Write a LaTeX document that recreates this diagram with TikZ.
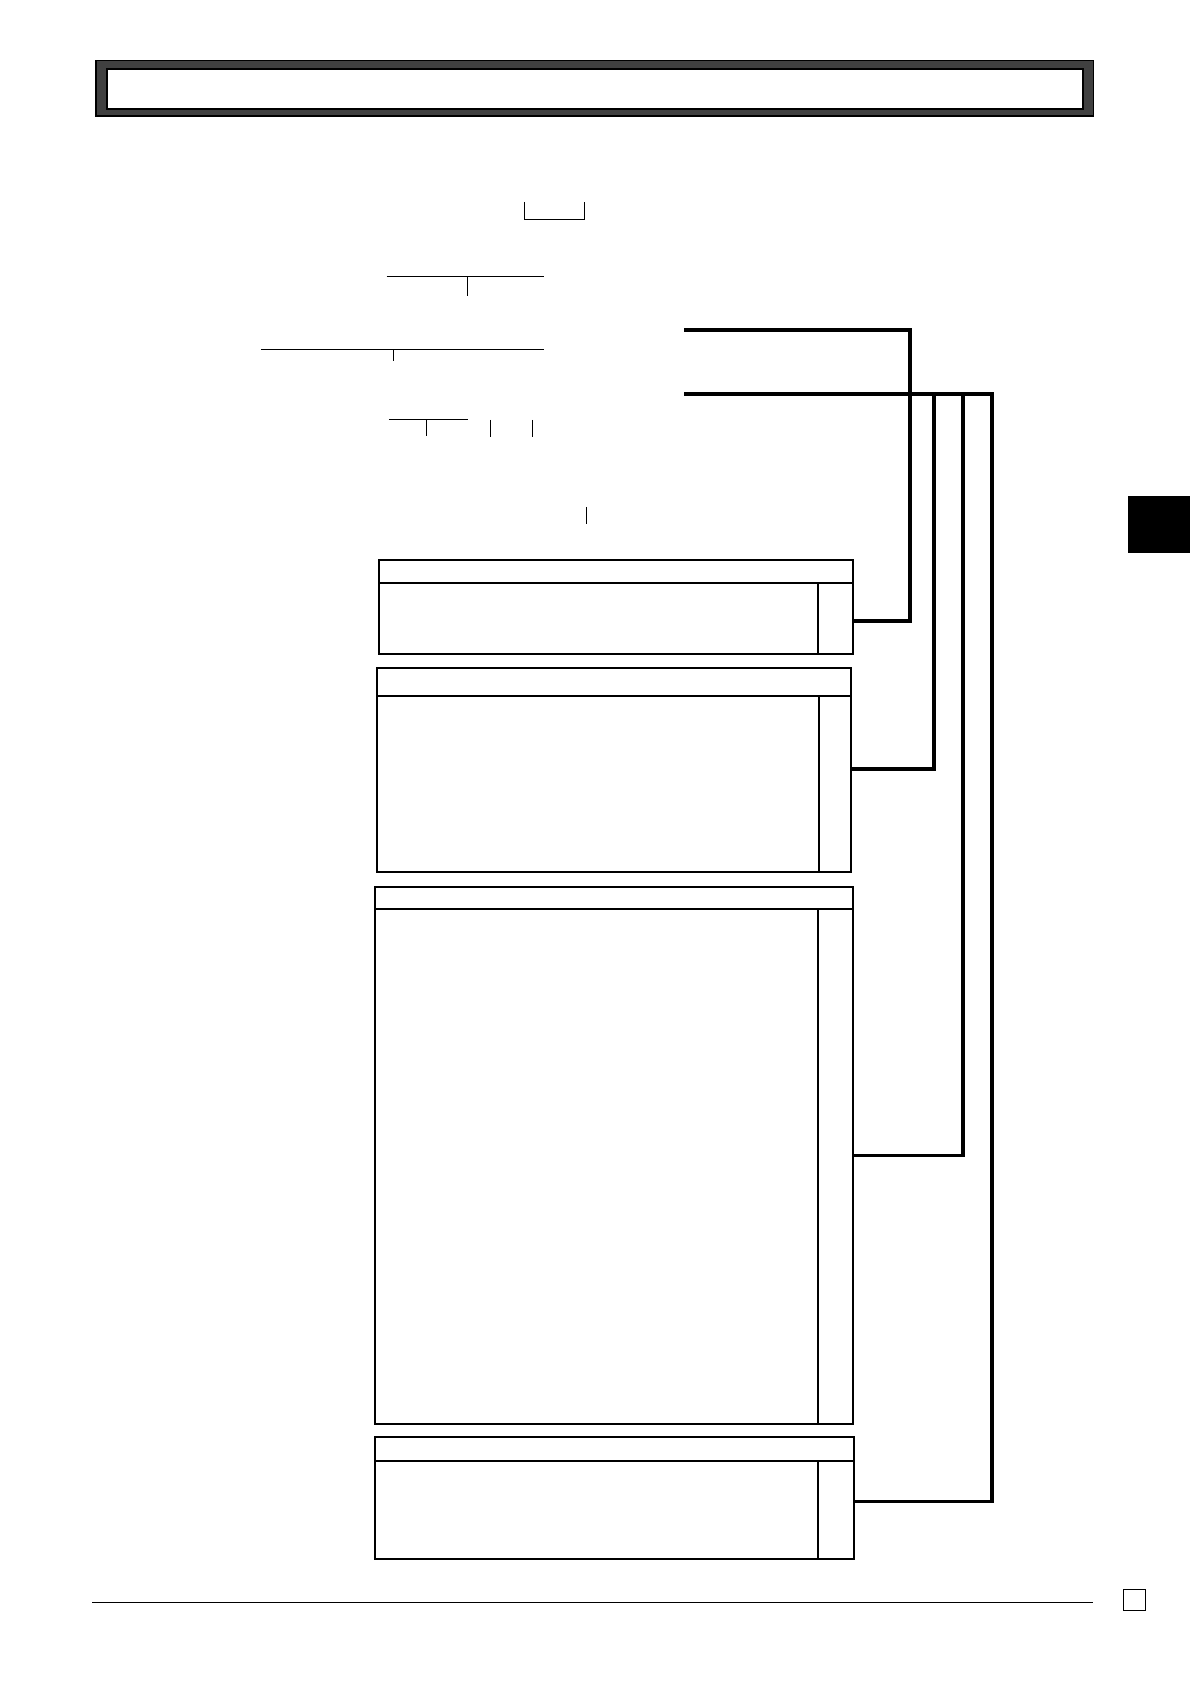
\documentclass[tikz,border=0pt]{standalone}
\definecolor{bandgray}{RGB}{64,64,64}
\tikzset{
  thinline/.style={line width=0.95pt, line cap=butt},
  boxframe/.style={draw, line width=1.9pt, rectangle, inner sep=0pt, outer sep=0pt},
  divline/.style={line width=1.9pt},
  busline/.style={line width=3.5pt, line join=miter, line cap=butt},
  hdrouter/.style={draw, line width=1pt, fill=bandgray, rectangle, inner sep=0pt, outer sep=0pt},
  hdrinner/.style={draw, line width=2pt, fill=white, rectangle, inner sep=0pt, outer sep=0pt},
}
\begin{document}
\begin{tikzpicture}[x=1pt,y=-1pt]
\useasboundingbox (0,0) rectangle (1108,1568);

% header
\node[hdrouter, minimum width=928.6pt, minimum height=52pt] (hdr) at (553.7,82) {};
\node[hdrinner, minimum width=908pt, minimum height=37.3pt] (hdrin) at (554,82.85) {};

% thin bracket lines (text omitted)
\draw[thinline] (488,188) -- (488,204) -- (544,204) -- (544,188);
\draw[thinline] (360,257.3) -- (506.5,257.3);
\draw[thinline] (435,257.3) -- (435,275.3);
\draw[thinline] (243,325.3) -- (506.5,325.3);
\draw[thinline] (366.2,325.3) -- (366.2,335.8);
\draw[thinline] (362,391) -- (435.4,391);
\draw[thinline] (397,391) -- (397,405.7);
\draw[thinline] (456.5,391) -- (456.5,406.6);
\draw[thinline] (495.6,391) -- (495.6,406.6);
\draw[thinline] (546.5,472) -- (546.5,488);

% boxes
\node[boxframe, minimum width=441pt, minimum height=88pt] (b1) at (573.5,565) {};
\draw[divline] (b1.west |- 0,542.5) -- (b1.east |- 0,542.5);
\draw[divline] (762,542.5) -- (762,0 |- b1.south);

\node[boxframe, minimum width=441pt, minimum height=190pt] (b2) at (571.5,717) {};
\draw[divline] (b2.west |- 0,648) -- (b2.east |- 0,648);
\draw[divline] (763,648) -- (763,0 |- b2.south);

\node[boxframe, minimum width=445pt, minimum height=500pt] (b3) at (571.5,1076) {};
\draw[divline] (b3.west |- 0,846) -- (b3.east |- 0,846);
\draw[divline] (762,846) -- (762,0 |- b3.south);

\node[boxframe, minimum width=446pt, minimum height=114pt] (b4) at (572,1395) {};
\draw[divline] (b4.west |- 0,1360) -- (b4.east |- 0,1360);
\draw[divline] (762,1360) -- (762,0 |- b4.south);

% bus connectors
\coordinate (s1) at (637,307);
\coordinate (s2) at (637,367);
\coordinate (j1) at (847,307);
\coordinate (j2) at (870,367);
\coordinate (j3) at (897,367);
\coordinate (j4) at (924,367);
\coordinate (c1) at (b1.east |- 0,578);
\coordinate (c2) at (b2.east |- 0,716);
\coordinate (c3) at (b3.east |- 0,1076);
\coordinate (c4) at (b4.east |- 0,1398);

\draw[busline] (s1) -- (j1) |- (c1);
\draw[busline] (s2) -- (j4) |- (c4);
\draw[busline] (j2) |- (c2);
\draw[busline] (j3) |- (c3);

% side tab
\fill[black] (1050,462) rectangle (1108,515);

% footer
\draw[line width=1.2pt] (86,1492) -- (1018,1492);
\node[draw, line width=1.2pt, rectangle, inner sep=0pt, minimum width=20.5pt, minimum height=19.5pt] (pg) at (1056.5,1489.5) {};
\end{tikzpicture}
\end{document}
